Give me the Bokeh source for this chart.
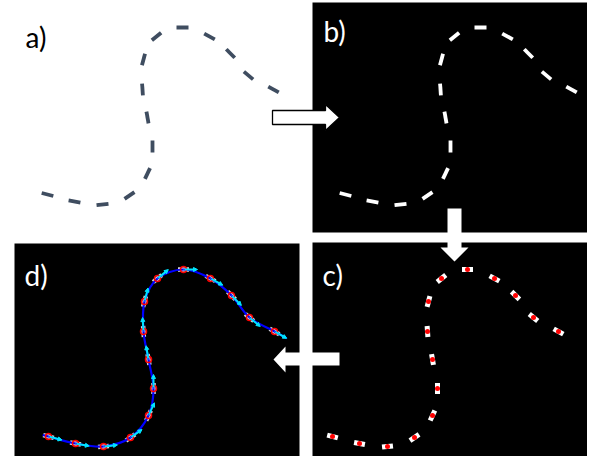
import numpy as np
from bokeh.plotting import figure
from bokeh.models import Range1d, ColumnDataSource, Arrow, NormalHead
from bokeh.core.properties import value
from bokeh.embed import file_html
from bokeh.resources import INLINE

# ---- data: dash centres of the traced curve (panel a coordinates, pixels) ----
CURVE_X = [47, 74, 102, 129, 147, 152, 147, 142, 143, 156, 182, 209, 230, 248, 273]
CURVE_Y = [194, 201, 204, 195, 173, 146, 117, 89, 59, 36, 27, 36, 53, 75, 89]

PANELS = ["a", "b", "c", "d"]
SHIFT_X = [0, 298, 285, 1]
SHIFT_Y = [0, 0, 242, 242]

LABELS = ["a)", "b)", "c)", "d)"]
LABEL_X = [25, 323, 322, 24]
LABEL_Y = [36, 30, 274, 274]
LABEL_COLORS = ["black", "white", "white", "white"]

# black panel backgrounds (b, c, d)
BG_LEFT = [312, 312, 14]
BG_RIGHT = [596, 596, 299]
BG_TOP = [2, 242, 243]
BG_BOTTOM = [232, 472, 472]

# block arrows between panels
ARROW_AB_X = [272, 325, 325, 339, 325, 325, 272]
ARROW_AB_Y = [110, 110, 104, 117, 130, 124, 124]
ARROW_BC_X = [447, 461, 461, 468, 454, 440, 447]
ARROW_BC_Y = [208, 208, 247, 247, 261, 247, 247]
ARROW_CD_X = [339, 285, 285, 273, 285, 285, 339]
ARROW_CD_Y = [352, 352, 346, 359, 372, 365, 365]

W, H = 587, 456
p = figure(width=W, height=H, output_backend="svg", toolbar_location=None,
           x_range=Range1d(0, W), y_range=Range1d(H, 0), min_border=0)
p.axis.visible = False
p.grid.visible = False
p.outline_line_color = None
p.background_fill_color = "white"
p.border_fill_color = "white"

p.quad(left=BG_LEFT, right=BG_RIGHT, top=BG_TOP, bottom=BG_BOTTOM,
       fill_color="black", line_color=None)

cx = np.array(CURVE_X, float)
cy = np.array(CURVE_Y, float)
tx = np.gradient(cx)
ty = np.gradient(cy)
n = np.hypot(tx, ty)
tx, ty = tx / n, ty / n


def dashes(sx, sy, length, width, color):
    x = cx + sx
    y = cy + sy
    h = length / 2
    p.segment(x0=x - tx * h, y0=y - ty * h, x1=x + tx * h, y1=y + ty * h,
              line_color=color, line_width=width, line_cap="butt")
    return x, y


# panel a
dashes(SHIFT_X[0], SHIFT_Y[0], 12, 3.8, "#3f4d60")
# panel b
dashes(SHIFT_X[1], SHIFT_Y[1], 12, 3.8, "white")
# panel c
xc, yc = dashes(SHIFT_X[2], SHIFT_Y[2], 11, 5, "white")
p.scatter(xc, yc, size=5, fill_color="red", line_color=None)
# panel d
xd, yd = dashes(SHIFT_X[3], SHIFT_Y[3], 11, 4.5, "#d8d8d8")

# smooth fitted curve (Catmull-Rom -> Bezier) through panel d points
px = np.concatenate([[xd[0] - tx[0] * 6], xd, [xd[-1] + tx[-1] * 14]])
py = np.concatenate([[yd[0] - ty[0] * 6], yd, [yd[-1] + ty[-1] * 14]])
ex = np.concatenate([[2 * px[0] - px[1]], px, [2 * px[-1] - px[-2]]])
ey = np.concatenate([[2 * py[0] - py[1]], py, [2 * py[-1] - py[-2]]])
i = np.arange(1, len(ex) - 2)
p.bezier(x0=ex[i], y0=ey[i], x1=ex[i + 1], y1=ey[i + 1],
         cx0=ex[i] + (ex[i + 1] - ex[i - 1]) / 6, cy0=ey[i] + (ey[i + 1] - ey[i - 1]) / 6,
         cx1=ex[i + 1] - (ex[i + 2] - ex[i]) / 6, cy1=ey[i + 1] - (ey[i + 2] - ey[i]) / 6,
         line_color="#0000ff", line_width=2.2)

# tangent vectors
src = ColumnDataSource(dict(x0=xd + tx * 1, y0=yd + ty * 1, x1=xd + tx * 14, y1=yd + ty * 14))
p.add_layout(Arrow(end=NormalHead(size=4, fill_color="#00e5ff", line_color="#00e5ff"),
                   x_start="x0", y_start="y0", x_end="x1", y_end="y1", source=src,
                   line_color="#00e5ff", line_width=2))
p.scatter(xd, yd, size=6, fill_color=None, line_color="red", line_width=1.5)

# block arrows
p.patch(ARROW_AB_X, ARROW_AB_Y, fill_color="white", line_color="black", line_width=1.3)
p.patch(ARROW_BC_X, ARROW_BC_Y, fill_color="white", line_color=None)
p.patch(ARROW_CD_X, ARROW_CD_Y, fill_color="white", line_color=None)

# labels
p.text(x=LABEL_X, y=LABEL_Y, text=LABELS, text_color=LABEL_COLORS,
       text_font=value("Lato"), text_font_size="28px", text_baseline="alphabetic")

open("out.html", "w").write(file_html(p, INLINE))
